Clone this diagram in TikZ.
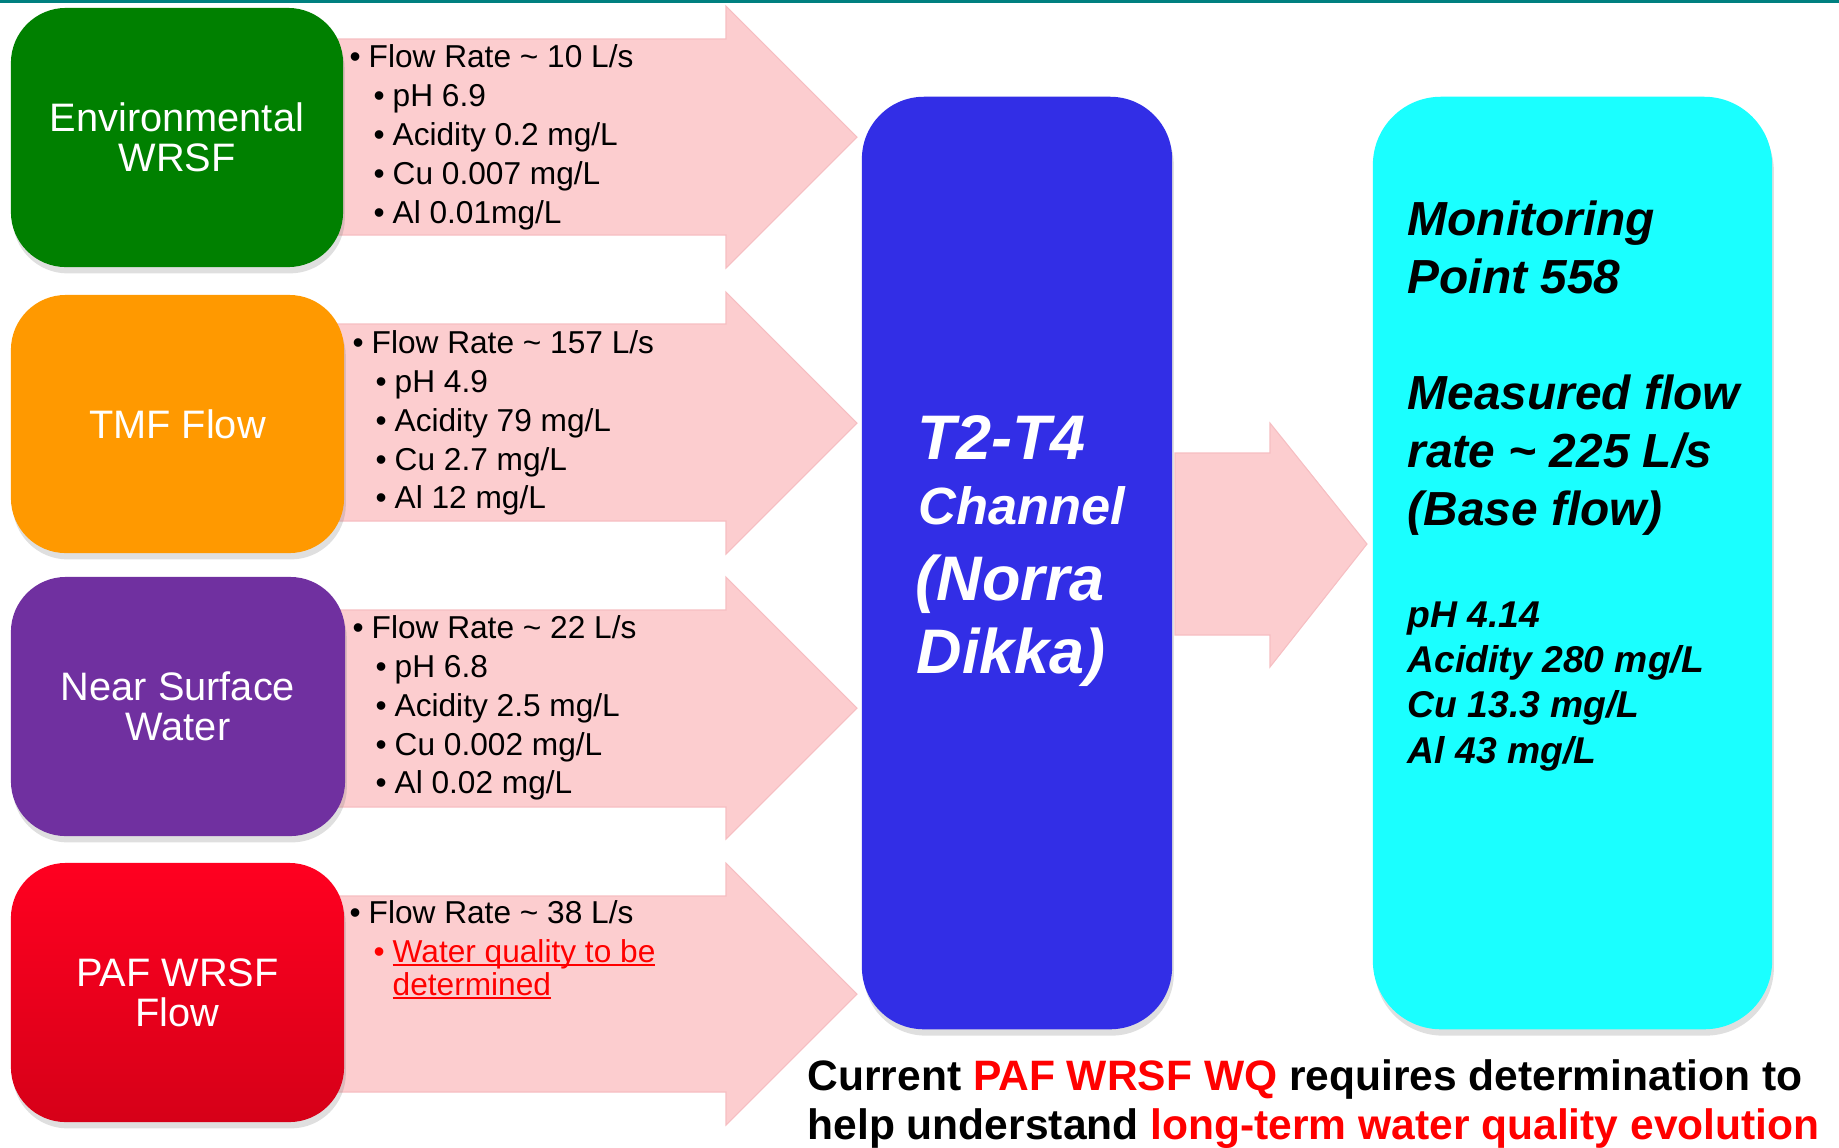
\documentclass[tikz,border=0pt]{standalone}
\usepackage{fontspec}
\setmainfont{Liberation Sans}
\usetikzlibrary{shadows}
\definecolor{topteal}{RGB}{0,128,128}
\definecolor{envgreen}{RGB}{0,128,0}
\definecolor{tmforange}{RGB}{255,153,0}
\definecolor{nswpurple}{RGB}{112,48,160}
\definecolor{paftop}{RGB}{255,0,32}
\definecolor{pafbot}{RGB}{214,0,24}
\definecolor{chanblue}{RGB}{50,46,230}
\definecolor{moncyan}{RGB}{26,255,255}
\definecolor{arrowpink}{RGB}{252,205,207}
\definecolor{arrowedge}{RGB}{246,190,194}
\definecolor{txtred}{RGB}{255,0,0}
\newcommand\bl{\makebox[5.4pt][l]{\textbullet}}
\newcommand\myul[1]{\setbox0\hbox{#1}\rlap{\rule[-1.1pt]{\wd0}{0.6pt}}\box0}
\tikzset{
  srcbox/.style={rounded corners=0.55cm, inner sep=0pt, text=white, align=center,
    font=\fontsize{11.3pt}{11.4pt}\selectfont,
    drop shadow={shadow xshift=0.5pt, shadow yshift=-1.8pt, opacity=0.25}},
  bigbox/.style={rounded corners=0.62cm, inner sep=0pt,
    drop shadow={shadow xshift=0.5pt, shadow yshift=-1.8pt, opacity=0.25}},
  blockarrow/.style={fill=arrowpink, draw=arrowedge, line width=0.3pt},
  bt/.style={anchor=base west, inner sep=0pt, font=\fontsize{9.0pt}{10pt}\selectfont},
  chanbig/.style={anchor=base west, inner sep=0pt, text=white, font=\fontsize{17.9pt}{20pt}\selectfont\bfseries\itshape},
  chansmall/.style={anchor=base west, inner sep=0pt, text=white, font=\fontsize{14.9pt}{17pt}\selectfont\bfseries\itshape},
  monbig/.style={anchor=base west, inner sep=0pt, font=\fontsize{13.6pt}{16pt}\selectfont\bfseries\itshape},
  monsmall/.style={anchor=base west, inner sep=0pt, font=\fontsize{10.6pt}{12pt}\selectfont\bfseries\itshape},
  note/.style={anchor=base west, inner sep=0pt, font=\fontsize{12.1pt}{14pt}\selectfont\bfseries}
}
\begin{document}
\begin{tikzpicture}[x=0.01cm, y=-0.01cm]
\useasboundingbox (0,0) rectangle (1839,1147);
% top rule
\fill[topteal] (0,0) rectangle (1839,3);

% block arrows
\draw[blockarrow] (320,39) -- (726,39) -- (726,6) -- (857,137) -- (726,268) -- (726,235) -- (320,235) -- cycle;
\draw[blockarrow] (320,324) -- (726,324) -- (726,292) -- (857,423) -- (726,554) -- (726,521) -- (320,521) -- cycle;
\draw[blockarrow] (320,610) -- (726,610) -- (726,577) -- (857,708) -- (726,839) -- (726,807) -- (320,807) -- cycle;
\draw[blockarrow] (320,896) -- (726,896) -- (726,863) -- (857,994) -- (726,1125) -- (726,1092) -- (320,1092) -- cycle;
\draw[blockarrow] (1175,453) -- (1270,453) -- (1270,423) -- (1367,544) -- (1270,667) -- (1270,635) -- (1175,635) -- cycle;

% source boxes
\node[srcbox, fill=envgreen, minimum width=3.32cm, minimum height=2.59cm] (env) at (177,137.5) {Environmental\\WRSF};
\node[srcbox, fill=tmforange, minimum width=3.33cm, minimum height=2.58cm] (tmf) at (177.5,424) {TMF Flow};
\node[srcbox, fill=nswpurple, minimum width=3.34cm, minimum height=2.59cm] (nsw) at (178,706.5) {Near Surface\\Water};
\node[srcbox, top color=paftop, bottom color=pafbot, minimum width=3.33cm, minimum height=2.59cm] (paf) at (177.5,992.5) {PAF WRSF\\Flow};

% channel and monitoring point
\node[bigbox, fill=chanblue, minimum width=3.10cm, minimum height=9.32cm] (chan) at (1017,563) {};
\node[bigbox, rounded corners=0.68cm, fill=moncyan, minimum width=3.99cm, minimum height=9.32cm] (mon) at (1572.5,563) {};

% group 1
\node[bt] (e1) at (349,67) {\bl Flow Rate \textasciitilde{} 10 L/s};
\node[bt] (e2) at (373,106) {\bl pH 6.9};
\node[bt] (e3) at (373,145) {\bl Acidity 0.2 mg/L};
\node[bt] (e4) at (373,184) {\bl Cu 0.007 mg/L};
\node[bt] (e5) at (373,223) {\bl Al 0.01mg/L};
% group 2
\node[bt] (t1) at (352,353) {\bl Flow Rate \textasciitilde{} 157 L/s};
\node[bt] (t2) at (375,392) {\bl pH 4.9};
\node[bt] (t3) at (375,431) {\bl Acidity 79 mg/L};
\node[bt] (t4) at (375,470) {\bl Cu 2.7 mg/L};
\node[bt] (t5) at (375,508) {\bl Al 12 mg/L};
% group 3
\node[bt] (n1) at (352,638) {\bl Flow Rate \textasciitilde{} 22 L/s};
\node[bt] (n2) at (375,677) {\bl pH 6.8};
\node[bt] (n3) at (375,716) {\bl Acidity 2.5 mg/L};
\node[bt] (n4) at (375,755) {\bl Cu 0.002 mg/L};
\node[bt] (n5) at (375,793) {\bl Al 0.02 mg/L};
% group 4
\node[bt] (p1) at (349,923) {\bl Flow Rate \textasciitilde{} 38 L/s};
\node[bt, text=txtred] (p2) at (373,962) {\bl\myul{Water quality to be}};
\node[bt, text=txtred] (p3) at (392,995) {\myul{determined}};

% channel text
\node[chanbig] (c1) at (917,459) {T2-T4};
\node[chansmall] (c2) at (918,524) {Channel};
\node[chanbig] (c3) at (915,600) {(Norra};
\node[chanbig] (c4) at (916,673) {Dikka)};

% monitoring text
\node[monbig] (m1) at (1407,235) {Monitoring};
\node[monbig] (m2) at (1407,293) {Point 558};
\node[monbig] (m3) at (1407,409) {Measured flow};
\node[monbig] (m4) at (1407,467) {rate \textasciitilde{} 225 L/s};
\node[monbig] (m5) at (1407,525) {(Base flow)};
\node[monsmall] (m6) at (1407,627) {pH 4.14};
\node[monsmall] (m7) at (1407,672) {Acidity 280 mg/L};
\node[monsmall] (m8) at (1407,717) {Cu 13.3 mg/L};
\node[monsmall] (m9) at (1407,763) {Al 43 mg/L};

% bottom note
\node[note] (b1) at (807,1090) {Current \textcolor{txtred}{PAF WRSF WQ} requires determination to};
\node[note] (b2) at (807,1139) {help understand \textcolor{txtred}{long-term water quality evolution}};
\end{tikzpicture}
\end{document}
